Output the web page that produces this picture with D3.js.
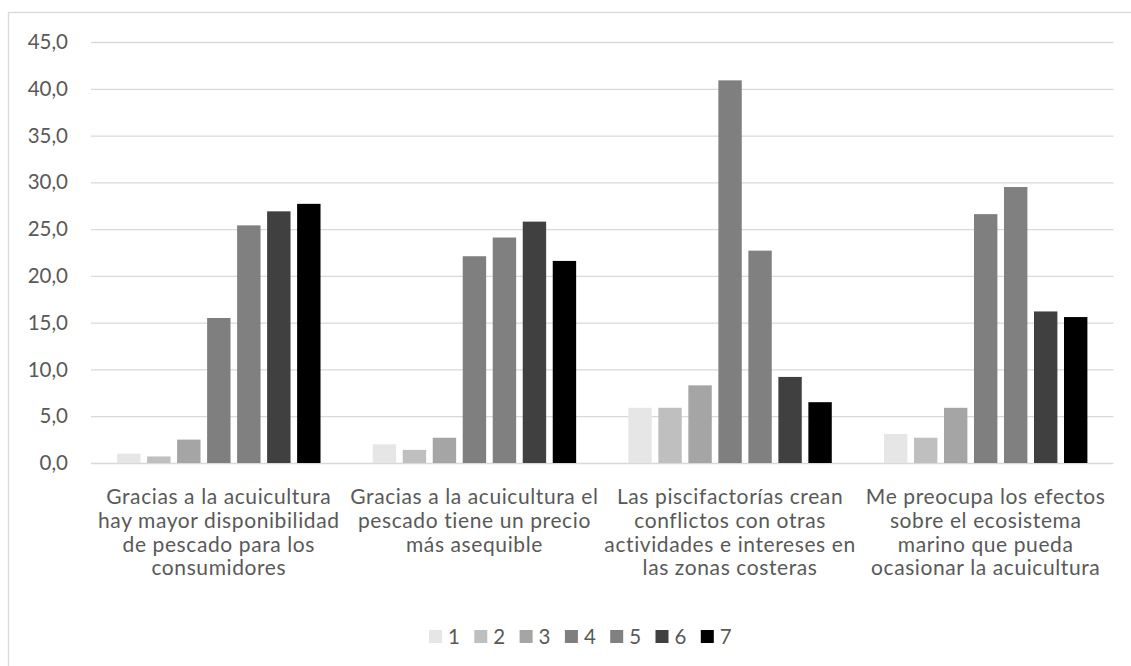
<!DOCTYPE html>
<html><head><meta charset="utf-8">
<script src="https://cdn.jsdelivr.net/npm/d3@7"></script>
<style>
html,body{margin:0;padding:0;background:#fff;}
svg text{font-family:Lato,"Open Sans",sans-serif;fill:#595959;}
</style></head>
<body><svg id="c" width="1131" height="666"></svg>
<script>
const categories = [
  ["Gracias a la acuicultura","hay mayor disponibilidad","de pescado para los","consumidores"],
  ["Gracias a la acuicultura el","pescado tiene un precio","más asequible"],
  ["Las piscifactorías crean","conflictos con otras","actividades e intereses en","las zonas costeras"],
  ["Me preocupa los efectos","sobre el ecosistema","marino que pueda","ocasionar la acuicultura"]
];
const seriesNames = ["1","2","3","4","5","6","7"];
const seriesColors = ["#e6e6e6","#bfbfbf","#a5a5a5","#7f7f7f","#808080","#404040","#000000"];
const s1 = [1.0, 2.0, 5.9, 3.1];
const s2 = [0.7, 1.4, 5.9, 2.7];
const s3 = [2.5, 2.7, 8.3, 5.9];
const s4 = [15.5, 22.1, 40.9, 26.6];
const s5 = [25.4, 24.1, 22.7, 29.5];
const s6 = [26.9, 25.8, 9.2, 16.2];
const s7 = [27.7, 21.6, 6.5, 15.6];
const seriesValues = [s1, s2, s3, s4, s5, s6, s7];
const yTicks = [0,5,10,15,20,25,30,35,40,45];

const svg = d3.select("#c");
svg.append("rect").attr("x",8.5).attr("y",12.5).attr("width",1140).attr("height",700)
  .attr("fill","none").attr("stroke","#d9d9d9").attr("stroke-width",1.3);

const pL = 91, pR = 1113.5, pT = 42, pB = 463;
const y = d3.scaleLinear().domain([0,45]).range([pB, pT]);
const x0 = d3.scaleBand().domain(d3.range(categories.length)).range([pL,pR]).paddingInner(0).paddingOuter(0);
const x1 = d3.scaleBand().domain(seriesNames).range([0,x0.bandwidth()]).paddingInner(0.22).paddingOuter(0.87);

const yAxis = d3.axisLeft(y).tickValues(yTicks).tickSize(-(pR-pL)).tickPadding(23)
  .tickFormat(d => d3.format(".1f")(d).replace(".", ","));
const ga = svg.append("g").attr("transform",`translate(${pL},0)`).call(yAxis);
ga.select(".domain").remove();
ga.selectAll(".tick line").attr("stroke","#d9d9d9").attr("stroke-width",1.3);
ga.selectAll(".tick text").style("font-size","20.5px").attr("fill","#595959").attr("font-family",null);

const groups = svg.append("g").selectAll("g").data(categories).join("g")
  .attr("transform",(d,i)=>`translate(${x0(i)},0)`);
groups.each(function(cat, ci){
  d3.select(this).selectAll("rect").data(seriesNames).join("rect")
    .attr("x", s => x1(s))
    .attr("width", x1.bandwidth())
    .attr("y", (s,si) => y(seriesValues[si][ci]))
    .attr("height", (s,si) => y(0) - y(seriesValues[si][ci]))
    .attr("fill", (s,si) => seriesColors[si]);
});

categories.forEach((lines, ci) => {
  const cx = x0(ci) + x0.bandwidth()/2;
  const t = svg.append("text").attr("text-anchor","middle")
    .style("font-size","21px").style("letter-spacing","0.6px");
  lines.forEach((ln, li) => {
    t.append("tspan").attr("x", cx).attr("y", 504 + li*23.8).text(ln);
  });
});

const lg = svg.append("g");
seriesNames.forEach((s, i) => {
  const lx = 429 + i*45.3;
  lg.append("rect").attr("x", lx).attr("y", 630).attr("width", 13).attr("height", 13).attr("fill", seriesColors[i]);
  lg.append("text").attr("x", lx + 19).attr("y", 644).style("font-size","20.5px").text(s);
});
</script></body></html>
